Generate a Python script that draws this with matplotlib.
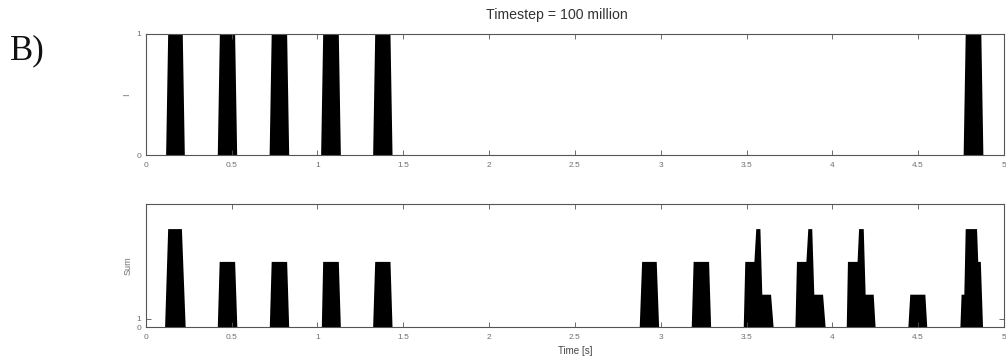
import matplotlib
matplotlib.use("Agg")
import matplotlib.pyplot as plt
import numpy as np

# ---- data ----
# top panel: on-intervals of the single neuron (value = 1)
pulse_on = [0.128, 0.429, 0.731, 1.031, 1.334, 4.774]
pulse_off = [0.213, 0.518, 0.821, 1.122, 1.423, 4.865]
ramp = 0.012

# bottom panel: summed activity (breakpoints of the sampled signal)
sum_t = [0.0, 0.110, 0.128, 0.208, 0.230,
         0.417, 0.428, 0.518, 0.531,
         0.720, 0.731, 0.821, 0.833,
         1.023, 1.031, 1.122, 1.134,
         1.322, 1.334, 1.423, 1.435,
         2.875, 2.889, 2.974, 2.988,
         3.178, 3.189, 3.279, 3.291,
         3.481, 3.490, 3.543, 3.554, 3.578, 3.589, 3.640, 3.655,
         3.782, 3.791, 3.846, 3.857, 3.880, 3.892, 3.943, 3.958,
         4.081, 4.088, 4.144, 4.153, 4.180, 4.191, 4.238, 4.249,
         4.440, 4.451, 4.539, 4.550,
         4.743, 4.750, 4.766, 4.774, 4.840, 4.847, 4.862, 4.875, 5.0]
sum_v = [0, 0, 12, 12, 0,
         0, 8, 8, 0,
         0, 8, 8, 0,
         0, 8, 8, 0,
         0, 8, 8, 0,
         0, 8, 8, 0,
         0, 8, 8, 0,
         0, 8, 8, 12, 12, 4, 4, 0,
         0, 8, 8, 12, 12, 4, 4, 0,
         0, 8, 8, 12, 12, 4, 4, 0,
         0, 4, 4, 0,
         0, 4, 4, 12, 12, 8, 8, 0, 0]

title = "Timestep = 100 million"
xticks = [0, 0.5, 1, 1.5, 2, 2.5, 3, 3.5, 4, 4.5, 5]
xticklabels = ["0", "0.5", "1", "1.5", "2", "2.5", "3", "3.5", "4", "4.5", "5"]

# build top-panel polyline from pulses
top_t = [0.0]
top_v = [0]
for a, b in zip(pulse_on, pulse_off):
    top_t += [a - ramp, a, b, b + ramp]
    top_v += [0, 1, 1, 0]
top_t.append(5.0)
top_v.append(0)

plt.rcParams['font.family'] = ['Liberation Sans', 'DejaVu Sans']

fig = plt.figure(figsize=(10.06, 3.6), dpi=100)
W, H = 1006, 360
ax1 = fig.add_axes([145.7 / W, 1 - 155 / H, (1004 - 145.7) / W, (155 - 34) / H])
ax2 = fig.add_axes([145.7 / W, 1 - 327 / H, (1004 - 145.7) / W, (327 - 204) / H])

frame_col = '#555555'
tick_col = '#707070'

for ax in (ax1, ax2):
    ax.set_xlim(0, 5)
    ax.set_xticks(xticks)
    ax.set_xticklabels(xticklabels)
    ax.tick_params(direction='in', top=True, right=True, length=3.5, width=0.6,
                   colors=frame_col, labelcolor=tick_col, labelsize=6)
    ax.tick_params(axis='x', pad=5)
    ax.tick_params(axis='y', pad=3)
    for s in ax.spines.values():
        s.set_color(frame_col)
        s.set_linewidth(0.8)

ax1.fill_between(top_t, top_v, 0, color='black', linewidth=0)
ax1.set_ylim(0, 1)
ax1.set_yticks([0, 1])
ax1.set_ylabel("I", fontsize=6.5, color=tick_col, labelpad=4)

ax2.fill_between(sum_t, sum_v, 0, color='black', linewidth=0)
ax2.set_ylim(0, 15)
ax2.set_yticks([0, 1])
ax2.set_ylabel("Sum", fontsize=6.5, color=tick_col, labelpad=3)
ax2.set_xlabel("Time [s]", fontsize=7, color='#444444', labelpad=4)

fig.text(556.5 / W, 1 - 15 / H, title, fontsize=10.2, color='#333333',
         ha='center', va='center')

fig.text(10 / W, 1 - 51 / H, "B)", fontsize=25, family=['Liberation Serif'],
         va='center', ha='left', color='#111111')

fig.savefig("out.png", dpi=100)
